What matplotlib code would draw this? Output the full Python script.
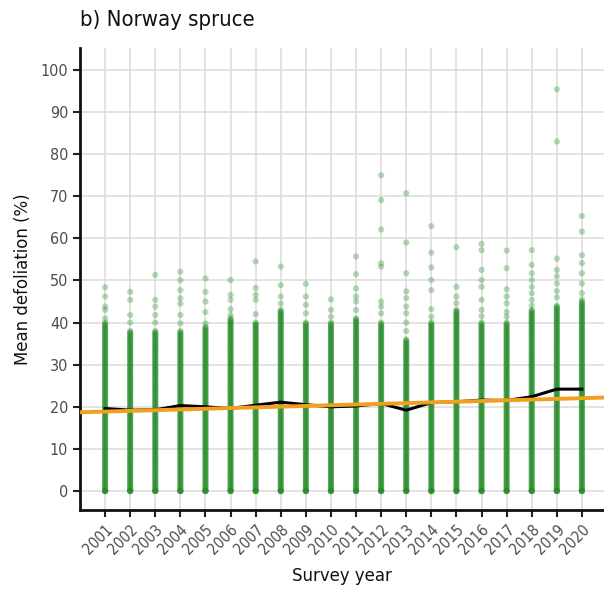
import numpy as np
import matplotlib
matplotlib.use("Agg")
import matplotlib.pyplot as plt

plt.rcParams['font.family'] = ['DejaVu Sans']
plt.rcParams['font.stretch'] = 'condensed'

years = list(range(2001, 2021))

# yearly mean defoliation (black line)
mean_defol = [19.6, 19.2, 19.3, 20.3, 20.0, 19.6, 20.4, 21.1, 20.5, 20.0,
              20.2, 20.8, 19.2, 21.0, 21.2, 21.6, 21.5, 22.4, 24.2, 24.2]

# linear trend (orange line), value at the two x-limits
trend_x = [2000, 2020.9]
trend_y = [18.7, 22.2]

# top of the solid point column per year
dense_top = [40, 38, 38, 38, 39, 41, 40, 43, 40, 40,
             41, 40, 36, 40, 43, 40, 40, 43, 44, 45]

# sparse plots above the solid column
upper_pts = [
    [48.4, 46.2, 43.8, 43.0, 41.0],
    [47.3, 45.4, 41.8, 40.0],
    [51.3, 45.4, 43.8, 41.8, 40.0],
    [52.1, 50.1, 47.7, 45.8, 44.5, 41.8, 39.8],
    [50.5, 47.3, 45.0, 42.5, 39.8],
    [50.1, 46.6, 45.4, 43.2, 41.8],
    [54.5, 48.2, 46.6, 45.4, 42.0],
    [53.3, 48.9, 46.2, 44.5],
    [49.2, 46.2, 44.2, 42.2],
    [45.5, 43.0, 41.4],
    [55.7, 51.5, 48.1, 46.2, 45.0, 43.0],
    [75.0, 69.1, 62.1, 54.1, 53.3, 45.0, 43.8, 42.2],
    [70.7, 59.0, 51.7, 47.4, 45.8, 43.8, 42.2, 40.0, 38.0],
    [62.9, 56.6, 53.1, 50.1, 47.7, 43.2, 41.4],
    [57.9, 48.5, 46.2, 44.6],
    [58.7, 57.2, 52.5, 50.1, 48.5, 45.4, 43.0, 41.5],
    [57.1, 52.9, 47.9, 46.2, 44.6, 42.5, 41.4],
    [57.2, 53.7, 51.7, 50.1, 48.5, 47.0, 45.4, 44.0],
    [95.4, 83.0, 55.2, 52.5, 51.0, 49.3, 47.5, 46.0],
    [65.3, 61.6, 56.0, 54.1, 51.7, 49.3, 47.0, 45.5],
]

fig = plt.figure(figsize=(6.04, 5.97), dpi=100)
ax = fig.add_axes([80 / 604, 1 - 510 / 597, 524 / 604, 462 / 597])

green = '#1f8a22'
for yr, top, extra in zip(years, dense_top, upper_pts):
    vals = np.concatenate([np.arange(0, top + 0.01, 0.25), [0, 0, 0, 0], extra])
    ax.scatter(np.full(len(vals), yr), vals, s=20, color=green, alpha=0.32,
               edgecolors='none', zorder=2)

ax.plot(years, mean_defol, color='black', lw=2.2, zorder=3)
ax.plot(trend_x, trend_y, color='#f0a01e', lw=2.8, zorder=4)

ax.set_xlim(2000, 2020.88)
ax.set_ylim(-4.5, 105.2)
ax.set_xticks(years)
ax.set_xticklabels([str(y) for y in years], rotation=45, ha='right',
                   rotation_mode='anchor', fontsize=11, color='#4d4d4d')
ax.set_yticks(range(0, 101, 10))
ax.tick_params(axis='y', labelsize=11.5, labelcolor='#4d4d4d')
ax.tick_params(axis='both', length=5, width=1.5, color='#222222')

ax.grid(True, color='#dedede', lw=1.2, zorder=0)
ax.set_axisbelow(True)
for side in ['top', 'right']:
    ax.spines[side].set_visible(False)
for side in ['left', 'bottom']:
    ax.spines[side].set_linewidth(2)
    ax.spines[side].set_color('#111111')

ax.set_xlabel('Survey year', fontsize=13.2, color='#111111', labelpad=7)
ax.set_ylabel('Mean defoliation (%)', fontsize=13.2, color='#111111', labelpad=6)
fig.text(80 / 604, 1 - 20 / 597, 'b) Norway spruce', fontsize=15.8,
         ha='left', va='center', color='#111111')

fig.savefig('out.png', dpi=100)
